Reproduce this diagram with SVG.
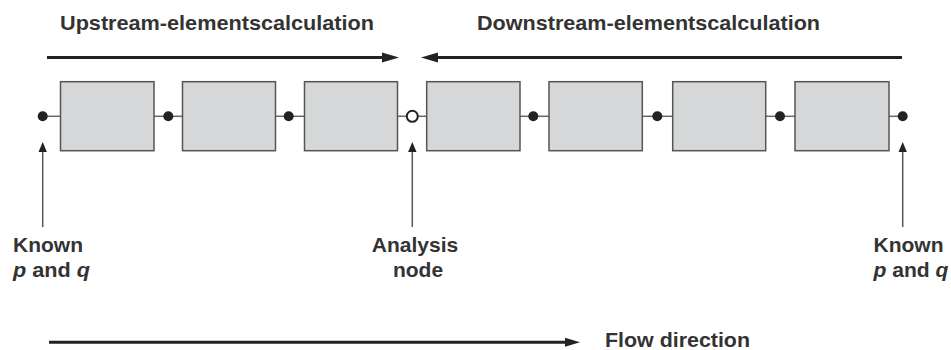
<svg xmlns="http://www.w3.org/2000/svg" width="951" height="350" viewBox="0 0 951 350">
  <style>
    .lbl { font-family: "Liberation Sans", Arial, sans-serif; font-weight: bold; fill: #333; font-size: 21px; }
    .box { fill: #d5d7d9; stroke: #555; stroke-width: 1.5; }
    .link { stroke: #666; stroke-width: 1.5; fill: none; }
    .dot { fill: #222; }
    .open { fill: #fff; stroke: #222; stroke-width: 2; }
    .big { stroke: #222; stroke-width: 3; fill: none; }
    .ptr { stroke: #555; stroke-width: 1.5; fill: none; }
  </style>
  <rect width="951" height="350" fill="#fff"/>

  <!-- headings -->
  <text class="lbl" x="60" y="30" textLength="314" lengthAdjust="spacingAndGlyphs">Upstream-elementscalculation</text>
  <text class="lbl" x="477" y="30" textLength="343" lengthAdjust="spacingAndGlyphs">Downstream-elementscalculation</text>

  <g id="connectors">
    <!-- calculation direction arrows -->
    <line class="big" x1="47" y1="57.5" x2="385" y2="57.5"/>
    <polygon points="399,57.5 382,52.5 382,62.5" fill="#222"/>
    <line class="big" x1="437" y1="57.5" x2="902" y2="57.5"/>
    <polygon points="421,57.5 438,52.5 438,62.5" fill="#222"/>

    <!-- element chain links -->
    <line class="link" x1="42.7" y1="116.3" x2="60.5" y2="116.3"/>
    <line class="link" x1="154" y1="116.3" x2="182.5" y2="116.3"/>
    <line class="link" x1="275.5" y1="116.3" x2="304.5" y2="116.3"/>
    <line class="link" x1="397.5" y1="116.3" x2="426.7" y2="116.3"/>
    <line class="link" x1="520" y1="116.3" x2="549" y2="116.3"/>
    <line class="link" x1="642.3" y1="116.3" x2="672.7" y2="116.3"/>
    <line class="link" x1="765.7" y1="116.3" x2="795" y2="116.3"/>
    <line class="link" x1="889" y1="116.3" x2="902.7" y2="116.3"/>

    <!-- pointer arrows to the boundary nodes -->
    <line class="ptr" x1="42.7" y1="227" x2="42.7" y2="150"/>
    <polygon points="42.7,142 38.5,152 46.9,152" fill="#222"/>
    <line class="ptr" x1="412.3" y1="227" x2="412.3" y2="150"/>
    <polygon points="412.3,142 408.1,152 416.5,152" fill="#222"/>
    <line class="ptr" x1="902.7" y1="227" x2="902.7" y2="150"/>
    <polygon points="902.7,142 898.5,152 906.9,152" fill="#222"/>

    <!-- flow direction arrow -->
    <line class="big" x1="49" y1="342.3" x2="568" y2="342.3"/>
    <polygon points="580,342.3 565,337.8 565,346.8" fill="#222"/>
  </g>

  <!-- pipeline elements -->
  <g id="element-1"><rect class="box" x="60.5" y="81.7" width="93.5" height="69"/></g>
  <g id="element-2"><rect class="box" x="182.5" y="81.7" width="93" height="69"/></g>
  <g id="element-3"><rect class="box" x="304.5" y="81.7" width="93" height="69"/></g>
  <g id="element-4"><rect class="box" x="426.7" y="81.7" width="93.3" height="69"/></g>
  <g id="element-5"><rect class="box" x="549" y="81.7" width="93.3" height="69"/></g>
  <g id="element-6"><rect class="box" x="672.7" y="81.7" width="93" height="69"/></g>
  <g id="element-7"><rect class="box" x="795" y="81.7" width="94" height="69"/></g>

  <!-- nodes -->
  <g id="node-inlet"><circle class="dot" cx="42.7" cy="116.3" r="5"/></g>
  <g id="node-1"><circle class="dot" cx="168.3" cy="116.3" r="5"/></g>
  <g id="node-2"><circle class="dot" cx="288.7" cy="116.3" r="5"/></g>
  <g id="node-analysis"><circle class="open" cx="412.3" cy="116.3" r="5.5"/></g>
  <g id="node-4"><circle class="dot" cx="533.3" cy="116.3" r="5"/></g>
  <g id="node-5"><circle class="dot" cx="657.3" cy="116.3" r="5"/></g>
  <g id="node-6"><circle class="dot" cx="780" cy="116.3" r="5"/></g>
  <g id="node-outlet"><circle class="dot" cx="902.7" cy="116.3" r="5"/></g>

  <!-- labels -->
  <g id="label-left">
    <text class="lbl" x="13" y="252" textLength="70" lengthAdjust="spacingAndGlyphs">Known</text>
    <text class="lbl" x="13" y="277" textLength="77" lengthAdjust="spacingAndGlyphs"><tspan font-style="italic">p</tspan> and <tspan font-style="italic">q</tspan></text>
  </g>
  <g id="label-analysis">
    <text class="lbl" x="415" y="252" text-anchor="middle">Analysis</text>
    <text class="lbl" x="418" y="277" text-anchor="middle">node</text>
  </g>
  <g id="label-right">
    <text class="lbl" x="873.5" y="252" textLength="70" lengthAdjust="spacingAndGlyphs">Known</text>
    <text class="lbl" x="873.5" y="277" textLength="75" lengthAdjust="spacingAndGlyphs"><tspan font-style="italic">p</tspan> and <tspan font-style="italic">q</tspan></text>
  </g>
  <text class="lbl" x="605" y="347" textLength="145" lengthAdjust="spacingAndGlyphs">Flow direction</text>
</svg>
